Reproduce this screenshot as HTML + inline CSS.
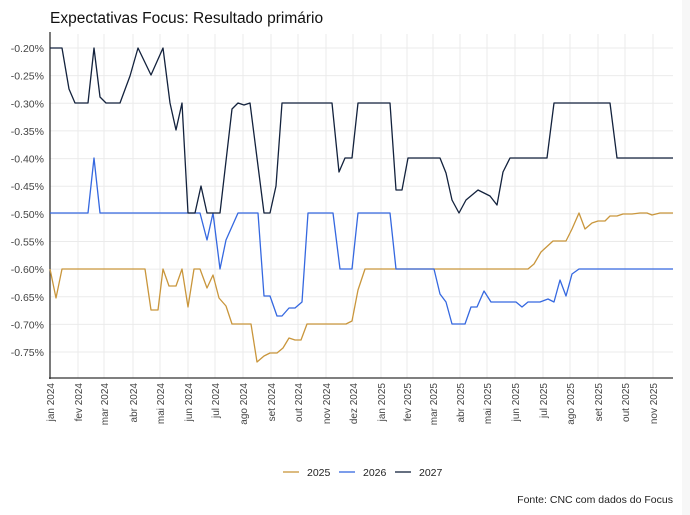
<!DOCTYPE html>
<html><head><meta charset="utf-8"><style>
body{margin:0;background:#fff;}
svg{display:block;font-family:"Liberation Sans",sans-serif;}
</style></head><body>
<svg width="690" height="515" viewBox="0 0 690 515">
<rect width="690" height="515" fill="#fff"/>
<rect x="682" y="0" width="8" height="515" fill="#f7f7f7"/>
<text x="50" y="23" font-size="15.5" fill="#111">Expectativas Focus: Resultado primário</text>
<g stroke="#ebebeb" stroke-width="1">
<line x1="50" x2="673" y1="48" y2="48"/><line x1="50" x2="673" y1="75.6" y2="75.6"/><line x1="50" x2="673" y1="103.3" y2="103.3"/><line x1="50" x2="673" y1="130.9" y2="130.9"/><line x1="50" x2="673" y1="158.6" y2="158.6"/><line x1="50" x2="673" y1="186.2" y2="186.2"/><line x1="50" x2="673" y1="213.8" y2="213.8"/><line x1="50" x2="673" y1="241.5" y2="241.5"/><line x1="50" x2="673" y1="269.1" y2="269.1"/><line x1="50" x2="673" y1="296.8" y2="296.8"/><line x1="50" x2="673" y1="324.4" y2="324.4"/><line x1="50" x2="673" y1="352" y2="352"/>
<line y1="34" y2="378" x1="78" x2="78"/><line y1="34" y2="378" x1="104" x2="104"/><line y1="34" y2="378" x1="133" x2="133"/><line y1="34" y2="378" x1="160" x2="160"/><line y1="34" y2="378" x1="188" x2="188"/><line y1="34" y2="378" x1="215" x2="215"/><line y1="34" y2="378" x1="243" x2="243"/><line y1="34" y2="378" x1="271" x2="271"/><line y1="34" y2="378" x1="298" x2="298"/><line y1="34" y2="378" x1="326" x2="326"/><line y1="34" y2="378" x1="353" x2="353"/><line y1="34" y2="378" x1="381" x2="381"/><line y1="34" y2="378" x1="407" x2="407"/><line y1="34" y2="378" x1="433" x2="433"/><line y1="34" y2="378" x1="460" x2="460"/><line y1="34" y2="378" x1="487" x2="487"/><line y1="34" y2="378" x1="515" x2="515"/><line y1="34" y2="378" x1="543" x2="543"/><line y1="34" y2="378" x1="570" x2="570"/><line y1="34" y2="378" x1="598" x2="598"/><line y1="34" y2="378" x1="625" x2="625"/><line y1="34" y2="378" x1="653" x2="653"/>
</g>
<line x1="50" y1="32" x2="50" y2="379" stroke="#333" stroke-width="1.3"/>
<line x1="49" y1="378" x2="673" y2="378" stroke="#333" stroke-width="1.3"/>
<g font-size="10.5" fill="#444" text-anchor="end">
<text x="44" y="52">-0.20%</text><text x="44" y="79.6">-0.25%</text><text x="44" y="107.3">-0.30%</text><text x="44" y="134.9">-0.35%</text><text x="44" y="162.6">-0.40%</text><text x="44" y="190.2">-0.45%</text><text x="44" y="217.8">-0.50%</text><text x="44" y="245.5">-0.55%</text><text x="44" y="273.1">-0.60%</text><text x="44" y="300.8">-0.65%</text><text x="44" y="328.4">-0.70%</text><text x="44" y="356">-0.75%</text>
</g>
<g font-size="10" fill="#444" text-anchor="end">
<text transform="translate(54,383) rotate(-90)">jan 2024</text>
<text transform="translate(82,383) rotate(-90)">fev 2024</text>
<text transform="translate(108,383) rotate(-90)">mar 2024</text>
<text transform="translate(137,383) rotate(-90)">abr 2024</text>
<text transform="translate(164,383) rotate(-90)">mai 2024</text>
<text transform="translate(192,383) rotate(-90)">jun 2024</text>
<text transform="translate(219,383) rotate(-90)">jul 2024</text>
<text transform="translate(247,383) rotate(-90)">ago 2024</text>
<text transform="translate(275,383) rotate(-90)">set 2024</text>
<text transform="translate(302,383) rotate(-90)">out 2024</text>
<text transform="translate(330,383) rotate(-90)">nov 2024</text>
<text transform="translate(357,383) rotate(-90)">dez 2024</text>
<text transform="translate(385,383) rotate(-90)">jan 2025</text>
<text transform="translate(411,383) rotate(-90)">fev 2025</text>
<text transform="translate(437,383) rotate(-90)">mar 2025</text>
<text transform="translate(464,383) rotate(-90)">abr 2025</text>
<text transform="translate(491,383) rotate(-90)">mai 2025</text>
<text transform="translate(519,383) rotate(-90)">jun 2025</text>
<text transform="translate(547,383) rotate(-90)">jul 2025</text>
<text transform="translate(574,383) rotate(-90)">ago 2025</text>
<text transform="translate(602,383) rotate(-90)">set 2025</text>
<text transform="translate(629,383) rotate(-90)">out 2025</text>
<text transform="translate(657,383) rotate(-90)">nov 2025</text>
</g>
<g fill="none" stroke-width="1.3" stroke-linejoin="round">
<polyline stroke="#c9963c" points="50,269 56,298 62,269 145,269 151,310 158,310 163,269 169,286 176,286 182,269 188,307 194,269 200,269 207,288 213,275 219,298 226,306 232,324 251,324 257,362 264,356 270,353 277,353 283,348 289,338 295,340 301,340 307,324 346,324 352,321 358,290 365,269 528,269 534,264 541,252 553,241 566,241 572,229 579,213 585,229 592,223 598,221 605,221 610,216 617,216 623,214 632,214 640,213 647,213 652,215 660,213 673,213"/>
<polyline stroke="#3568e0" points="50,213 88,213 94,158 100,213 200,213 207,240 213,213 220,269 226,240 238,213 258,213 264,296 270,296 277,316 282,316 289,308 295,308 302,302 308,213 333,213 340,269 352,269 358,213 390,213 396,269 434,269 440,294 446,302 452,324 465,324 471,307 477,307 484,291 491,302 516,302 522,307 528,302 540,302 548,299 554,302 560,280 566,296 572,274 579,269 673,269"/>
<polyline stroke="#13223d" points="50,48 62,48 69,89 75,103 88,103 94,48 100,97 106,103 120,103 130,76 138,48 151,75 163,48 170,103 176,130 182,103 188,213 195,213 201,186 207,213 220,213 232,109 238,103 244,105 250,103 264,213 270,213 276,186 282,103 332,103 339,172 345,158 352,158 358,103 390,103 396,190 402,190 408,158 440,158 446,173 452,200 459,213 466,200 478,190 490,196 497,205 503,172 510,158 547,158 554,103 610,103 617,158 673,158"/>
</g>
<g font-size="10.5" fill="#222">
<line x1="283" x2="299" y1="472" y2="472" stroke="#c9963c" stroke-width="1.3"/><text x="307" y="476">2025</text>
<line x1="339" x2="355" y1="472" y2="472" stroke="#3568e0" stroke-width="1.3"/><text x="363" y="476">2026</text>
<line x1="395" x2="411" y1="472" y2="472" stroke="#13223d" stroke-width="1.3"/><text x="419" y="476">2027</text>
<text x="673" y="503" text-anchor="end">Fonte: CNC com dados do Focus</text>
</g>
</svg>
</body></html>
